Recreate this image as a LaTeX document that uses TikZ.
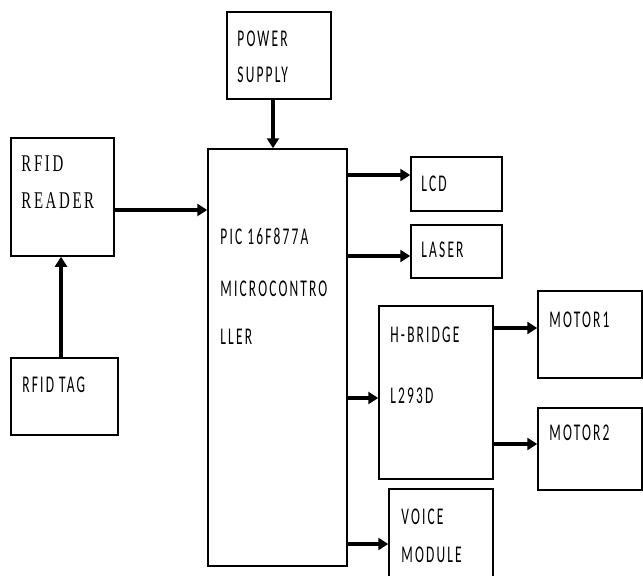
\documentclass[tikz,border=0pt]{standalone}
\usepackage{fontspec}
\usetikzlibrary{arrows.meta}
\newfontfamily\lblfont[FakeStretch=0.56,LetterSpace=9]{Carlito}
\newfontfamily\lblserif[FakeStretch=0.62,LetterSpace=11]{Liberation Serif}

\begin{document}
\begin{tikzpicture}[x=1pt,y=-1pt,
    blk/.style={draw,line width=1.5pt,inner sep=0pt},
    lbl/.style={anchor=north west,inner sep=0pt,align=left,font=\fontsize{24}{36}\selectfont\lblfont},
    arr/.style={line width=3.2pt,-{Triangle[length=10pt,width=12pt]}}]

    % 枠
    \clip (0,0) rectangle (643,576);

    % ブロックの定義
    \node[blk, minimum width=104pt, minimum height=87pt]  (pw)  at (279,55.5)  {};
    \node[blk, minimum width=139pt, minimum height=417pt] (mc)  at (277.5,357.5) {};
    \node[blk, minimum width=103pt, minimum height=118pt] (rd)  at (62.5,197)  {};
    \node[blk, minimum width=107pt, minimum height=77pt]  (tag) at (64.5,396.5) {};
    \node[blk, minimum width=91pt,  minimum height=54pt]  (lcd) at (456.5,184) {};
    \node[blk, minimum width=91pt,  minimum height=53pt]  (las) at (456.5,251.5) {};
    \node[blk, minimum width=114pt, minimum height=173pt] (hb)  at (436,392.5) {};
    \node[blk, minimum width=104pt, minimum height=87pt]  (m1)  at (590,334.5) {};
    \node[blk, minimum width=104pt, minimum height=82pt]  (m2)  at (590,449) {};
    \node[blk, minimum width=104pt, minimum height=95pt]  (vm)  at (441,536.5) {};

    % ラベル
    \node[lbl] (pwT)  at ([shift={(11pt,-19pt)}]pw.north west)  {POWER\\SUPPLY};
    \node[lbl, font=\fontsize{24}{37}\selectfont\lblserif] (rdT) at ([shift={(11pt,-18pt)}]rd.north west) {RFID\\READER};
    \node[lbl, font=\fontsize{24}{48}\selectfont\lblfont] (mcT) at ([shift={(13pt,-80pt)}]mc.north west) {PIC 16F877A\\[4pt]MICROCONTRO\\LLER};
    \node[lbl] (tagT) at ([shift={(12pt,-19pt)}]tag.north west) {RFID TAG};
    \node[lbl] (lcdT) at ([shift={(11pt,-19pt)}]lcd.north west) {LCD};
    \node[lbl] (lasT) at ([shift={(11pt,-17pt)}]las.north west) {LASER};
    \node[lbl, font=\fontsize{24}{61}\selectfont\lblfont] (hbT) at ([shift={(12pt,-21pt)}]hb.north west) {H-BRIDGE\\L293D};
    \node[lbl] (m1T)  at ([shift={(12pt,-21pt)}]m1.north west)  {MOTOR1};
    \node[lbl] (m2T)  at ([shift={(12pt,-17pt)}]m2.north west)  {MOTOR2};
    \node[lbl, font=\fontsize{24}{38}\selectfont\lblfont] (vmT) at ([shift={(13pt,-20pt)}]vm.north west) {VOICE\\MODULE};

    % 矢印
    \draw[arr] ([xshift=-6pt]pw.south) -- ([xshift=-6pt]pw.south |- mc.north);
    \draw[arr] ([xshift=-3.5pt]tag.north) -- ([xshift=-3.5pt]tag.north |- rd.south);
    \draw[arr] ([yshift=-13pt]rd.east) -- ([yshift=-13pt]rd.east -| mc.west);
    \draw[arr] ([yshift=9pt]lcd.west -| mc.east) -- ([yshift=9pt]lcd.west);
    \draw[arr] ([yshift=-4.5pt]las.west -| mc.east) -- ([yshift=-4.5pt]las.west);
    \draw[arr] ([yshift=-5.5pt]hb.west -| mc.east) -- ([yshift=-5.5pt]hb.west);
    \draw[arr] ([yshift=-7.5pt]vm.west -| mc.east) -- ([yshift=-7.5pt]vm.west);
    \draw[arr] ([yshift=6.5pt]m1.west -| hb.east) -- ([yshift=6.5pt]m1.west);
    \draw[arr] ([yshift=5pt]m2.west -| hb.east) -- ([yshift=5pt]m2.west);

\end{tikzpicture}
\end{document}
